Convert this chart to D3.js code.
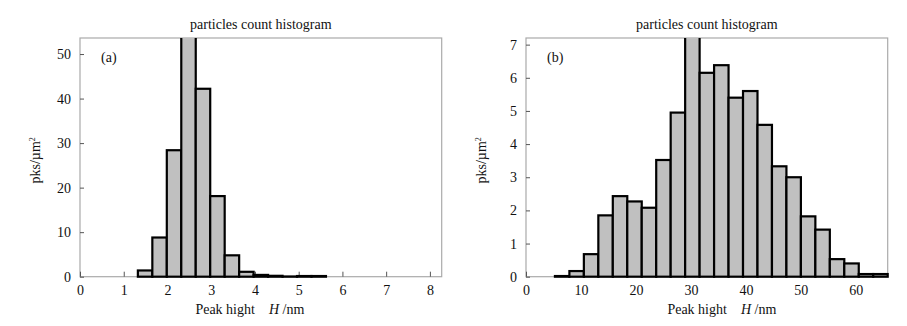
<!DOCTYPE html>
<html>
<head>
<meta charset="utf-8">
<script src="https://cdn.jsdelivr.net/npm/d3@7"></script>
<style>
  body { margin: 0; background: #fff; }
  svg text { font-family: "Liberation Serif", "DejaVu Serif", serif; fill: #111; }
</style>
</head>
<body>
<svg id="chart" width="907" height="326"></svg>
<script>
// panel (a): 25 equal bins from 0 to xMaxA
const xMaxA = 8.27
const countsA = [0, 0, 0, 0, 1.4, 8.8, 28.4, 57, 42.2, 18.1, 4.8, 1.1, 0.4, 0.2, 0.05, 0.15, 0.15, 0, 0, 0, 0, 0, 0, 0, 0]
const xTicksA = [0, 1, 2, 3, 4, 5, 6, 7, 8]
const yTicksA = [0, 10, 20, 30, 40, 50]
const yMaxA = 53.6

// panel (b): 25 equal bins from 0 to xMaxB
const xMaxB = 65.8
const countsB = [0, 0, 0.02, 0.17, 0.68, 1.85, 2.43, 2.27, 2.08, 3.52, 4.95, 7.6, 6.15, 6.38, 5.4, 5.6, 4.58, 3.33, 3.0, 1.82, 1.42, 0.53, 0.4, 0.08, 0.08]
const xTicksB = [0, 10, 20, 30, 40, 50, 60]
const yTicksB = [0, 1, 2, 3, 4, 5, 6, 7]
const yMaxB = 7.2

const titleText = 'particles count histogram'

const svg = d3.select('#chart')

function panel(opts) {
  const { left, top, width, height, xMax, yMax, counts, xTicks, yTicks, tag, id } = opts
  const g = svg.append('g').attr('transform', `translate(${left},${top})`)

  const x = d3.scaleLinear().domain([0, xMax]).range([0, width])
  const y = d3.scaleLinear().domain([0, yMax]).range([height, 0])
  const step = xMax / counts.length

  const bins = counts.map((v, i) => ({ x0: i * step, x1: (i + 1) * step, v }))
    .filter(d => d.v > 0)

  g.append('clipPath').attr('id', 'clip' + id)
    .append('rect').attr('x', -2).attr('y', 0).attr('width', width + 4).attr('height', height + 2)

  // frame
  g.append('rect')
    .attr('width', width).attr('height', height)
    .attr('fill', 'none').attr('stroke', '#aaa').attr('stroke-width', 1.2)

  const yAxis = g.append('g')
    .call(d3.axisLeft(y).tickValues(yTicks).tickSize(-4).tickPadding(9))
  const xAxis = g.append('g').attr('transform', `translate(0,${height})`)
    .call(d3.axisBottom(x).tickValues(xTicks).tickSize(-5).tickPadding(8))

  ;[xAxis, yAxis].forEach(a => {
    a.select('.domain').remove()
    a.selectAll('.tick line').attr('stroke', '#555').attr('stroke-width', 1)
    a.selectAll('.tick text').style('font-size', '14px').attr('fill', '#111')
  })

  g.append('g').attr('clip-path', `url(#clip${id})`)
    .selectAll('rect.bar')
    .data(bins)
    .join('rect')
    .attr('class', 'bar')
    .attr('x', d => x(d.x0))
    .attr('width', d => x(d.x1) - x(d.x0))
    .attr('y', d => y(d.v))
    .attr('height', d => y(0) - y(d.v))
    .attr('fill', '#c0c0c0')
    .attr('stroke', '#000')
    .attr('stroke-width', 2.2)

  // title
  g.append('text')
    .attr('x', width / 2).attr('y', -9)
    .attr('text-anchor', 'middle')
    .style('font-size', '14px')
    .text(titleText)

  // panel tag
  g.append('text')
    .attr('x', 21).attr('y', 24)
    .style('font-size', '14px')
    .text(tag)

  // y label
  g.append('text')
    .attr('transform', `translate(${-40},${height / 2 + 3}) rotate(-90)`)
    .attr('text-anchor', 'middle')
    .style('font-size', '14px')
    .html('pks/µm<tspan dy="-5" style="font-size:8px">2</tspan>')

  // x label
  const xl = g.append('text')
    .attr('x', width / 2 + opts.xLabelShift).attr('y', height + 37)
    .attr('text-anchor', 'middle')
    .style('font-size', '14px')
  xl.append('tspan').text('Peak hight')
  xl.append('tspan').attr('dx', 14).style('font-style', 'italic').text('H')
  xl.append('tspan').text(' /nm')
}

panel({ id: 'a', left: 80, top: 38, width: 361.7, height: 238.7, xMax: xMaxA, yMax: yMaxA,
  counts: countsA, xTicks: xTicksA, yTicks: yTicksA, tag: '(a)', xLabelShift: -11 })
panel({ id: 'b', left: 526, top: 38, width: 361.7, height: 238.7, xMax: xMaxB, yMax: yMaxB,
  counts: countsB, xTicks: xTicksB, yTicks: yTicksB, tag: '(b)', xLabelShift: 15 })
</script>
</body>
</html>
